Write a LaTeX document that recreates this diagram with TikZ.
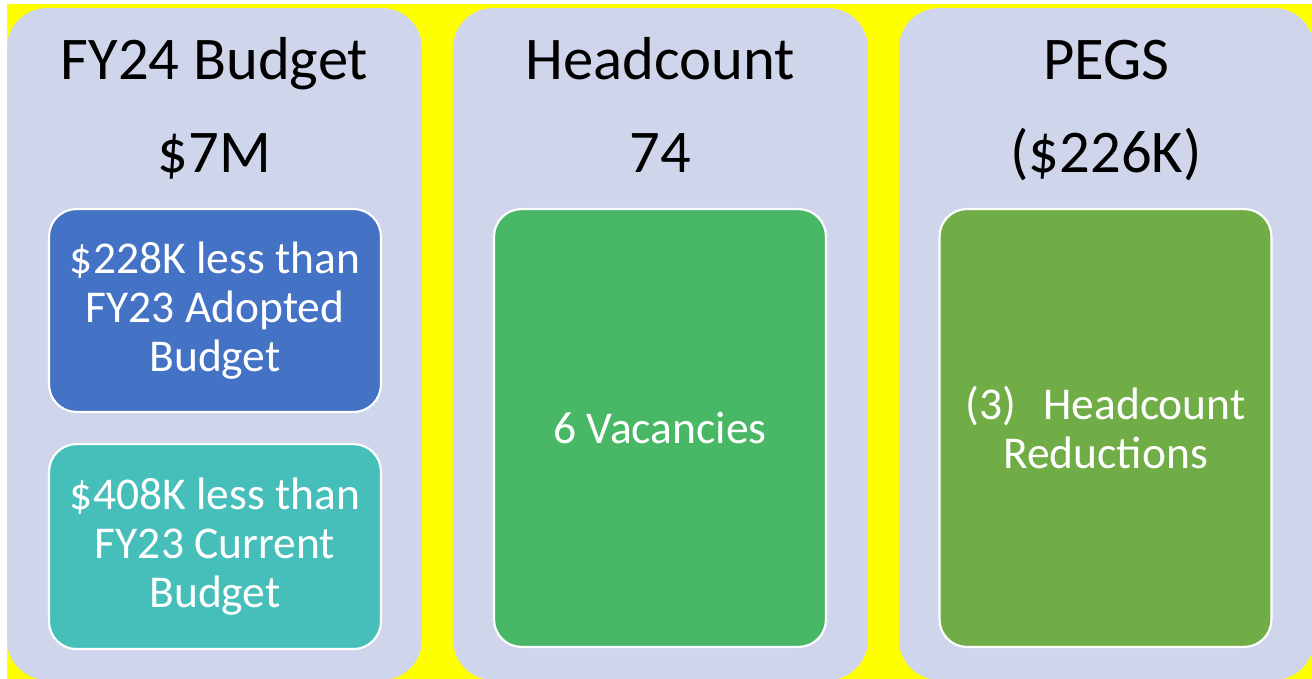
\documentclass[tikz,border=0pt]{standalone}
\usepackage{fontspec}
\setmainfont{Carlito}
\usetikzlibrary{positioning}
\definecolor{bgyellow}{HTML}{FFFF00}
\definecolor{panelgray}{HTML}{CFD5EA}
\definecolor{adoptblue}{HTML}{4472C4}
\definecolor{currteal}{HTML}{46BFBB}
\definecolor{vacgreen}{HTML}{48B866}
\definecolor{pegsgreen}{HTML}{70AD47}

\begin{document}
\begin{tikzpicture}[x=0.02cm, y=-0.02cm,
      panel/.style={fill=panelgray, rounded corners=0.8cm, inner sep=0pt,
          minimum width=8.3cm, minimum height=13.44cm},
      heading/.style={anchor=base, text=black, font=\fontsize{34.5}{38}\selectfont},
      card/.style={draw=white, line width=1.2pt, rounded corners=0.55cm,
          inner sep=0pt, minimum width=6.64cm, text=white, align=center,
          font=\fontsize{25.9}{27.9}\selectfont}]

      % background
      \clip (0,0) rectangle (1312,679);
      \fill[white] (0,0) rectangle (1312,679);
      \fill[bgyellow] (7,4) rectangle (1312,679);

      % three panels
      \node[panel] (budget) at (214.5,344) {};
      \node[panel] (heads) at (660.5,344) {};
      \node[panel] (pegs) at (1106.5,344) {};

      % headings
      \node[heading] (budgettitle) at (214.5,80) {FY24 Budget};
      \node[heading] (budgetvalue) at (214.5,173) {\$7M};
      \node[heading] (headstitle) at (660.5,80) {Headcount};
      \node[heading] (headsvalue) at (660.5,173) {74};
      \node[heading] (pegstitle) at (1106.5,80) {PEGS};
      \node[heading] (pegsvalue) at (1106,173) {(\$226K)};

      % cards
      \node[card, fill=adoptblue, minimum height=4.06cm] (adopted) at (215,310.5)
          {\$228K less than\\FY23 Adopted\\Budget};
      \node[card, fill=currteal, minimum height=4.1cm, below=0.6cm of adopted] (current)
          {\$408K less than\\FY23 Current\\Budget};
      \node[card, fill=vacgreen, minimum height=8.76cm] (vacancies) at (660,428)
          {6 Vacancies};
      \node[card, fill=pegsgreen, minimum height=8.76cm] (reductions) at (1105.5,428)
          {(3)\hspace{0.6em}Headcount\\Reductions};
\end{tikzpicture}
\end{document}
